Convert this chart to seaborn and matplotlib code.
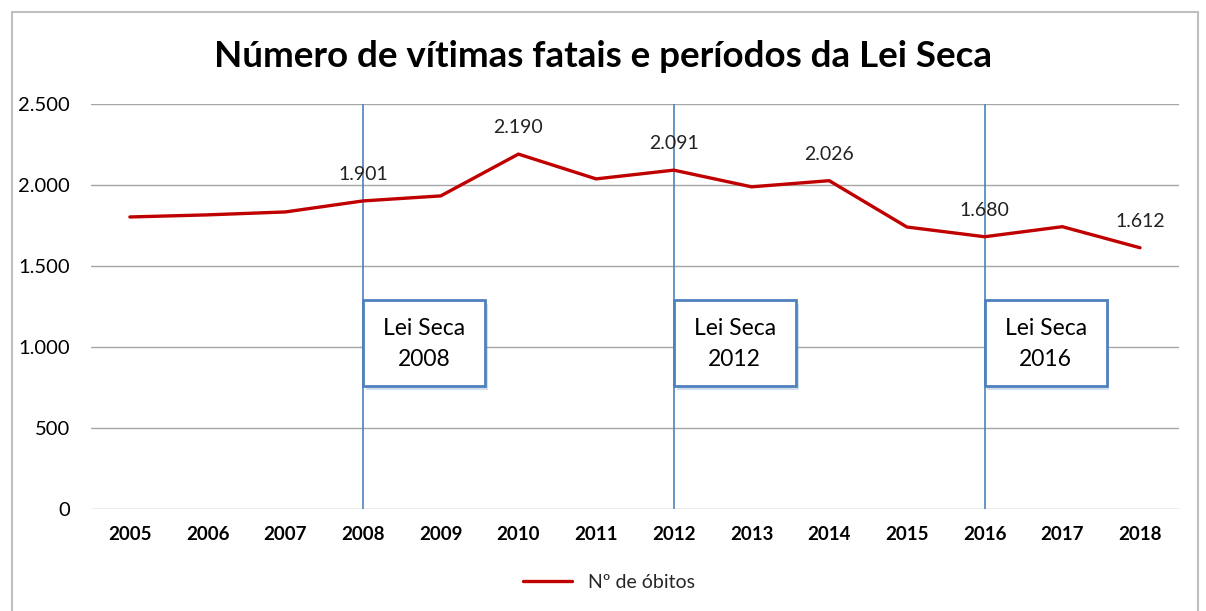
import matplotlib
matplotlib.use("Agg")
import matplotlib.pyplot as plt
import matplotlib.patheffects as pe
from matplotlib.patches import Rectangle
from matplotlib.ticker import FuncFormatter
import pandas as pd
import seaborn as sns

years = [2005, 2006, 2007, 2008, 2009, 2010, 2011, 2012, 2013, 2014, 2015, 2016, 2017, 2018]
deaths = [1802, 1815, 1833, 1901, 1932, 2190, 2037, 2091, 1988, 2026, 1740, 1680, 1742, 1612]
labelled_years = [2008, 2010, 2012, 2014, 2016, 2018]
law_years = [2008, 2012, 2016]

RED = "#C00000"
BLUE = "#4F81BD"
GRID = "#A6A6A6"

sns.set_theme(style="white")
plt.rcParams["font.family"] = ["Lato", "DejaVu Sans"]

df = pd.DataFrame({"ano": years, "obitos": deaths})

fig = plt.figure(figsize=(12.06, 6.11), dpi=100)
ax = fig.add_axes([0.0755, 0.167, 0.902, 0.663])

sns.lineplot(data=df, x="ano", y="obitos", ax=ax, color=RED, lw=2.4,
             label="Nº de óbitos", legend=False)

ax.set_xlim(years[0] - 0.5, years[-1] + 0.5)
ax.set_ylim(0, 2500)
ax.set_yticks(range(0, 2501, 500))
ax.yaxis.set_major_formatter(FuncFormatter(lambda v, _: f"{int(v):,}".replace(",", ".")))
ax.set_xticks(years)
ax.set_xticklabels([str(y) for y in years], fontweight="bold")
ax.tick_params(axis="x", labelsize=13.5, pad=12, length=0, colors="black")
ax.tick_params(axis="y", labelsize=14.5, pad=15, length=0, colors="black")
ax.grid(axis="y", color=GRID, lw=1)
for s in ax.spines.values():
    s.set_visible(False)
ax.set_xlabel("")
ax.set_ylabel("")

# data labels
for y, v in zip(years, deaths):
    if y in labelled_years:
        ax.annotate(f"{v:,}".replace(",", "."), (y, v), xytext=(0, 13),
                    textcoords="offset points", ha="center", va="bottom",
                    fontsize=14, color="#222222")

# Lei Seca markers
for ly in law_years:
    ax.axvline(ly, color=BLUE, lw=1.2, zorder=1)
    box = Rectangle((ly, 760), 1.57, 530, facecolor="white", edgecolor=BLUE,
                    lw=2, zorder=3)
    box.set_path_effects([pe.SimplePatchShadow(offset=(2, -3), shadow_rgbFace=BLUE,
                                               alpha=0.25), pe.Normal()])
    ax.add_patch(box)
    ax.text(ly + 0.785, 1020, f"Lei Seca\n{ly}", ha="center", va="center",
            fontsize=16.5, linespacing=1.6, zorder=4, color="black")

fig.suptitle("Número de vítimas fatais e períodos da Lei Seca", y=0.935,
             fontsize=26.5, fontweight="bold", color="black")

fig.legend(loc="center", bbox_to_anchor=(0.505, 0.047), frameon=False,
           fontsize=14, handlelength=2.5)

fig.patches.append(Rectangle((0.01, -0.01), 0.983, 0.99, transform=fig.transFigure,
                             fill=False, edgecolor="#BFBFBF", lw=1.5))

fig.savefig("out.png", dpi=100, facecolor="white")
